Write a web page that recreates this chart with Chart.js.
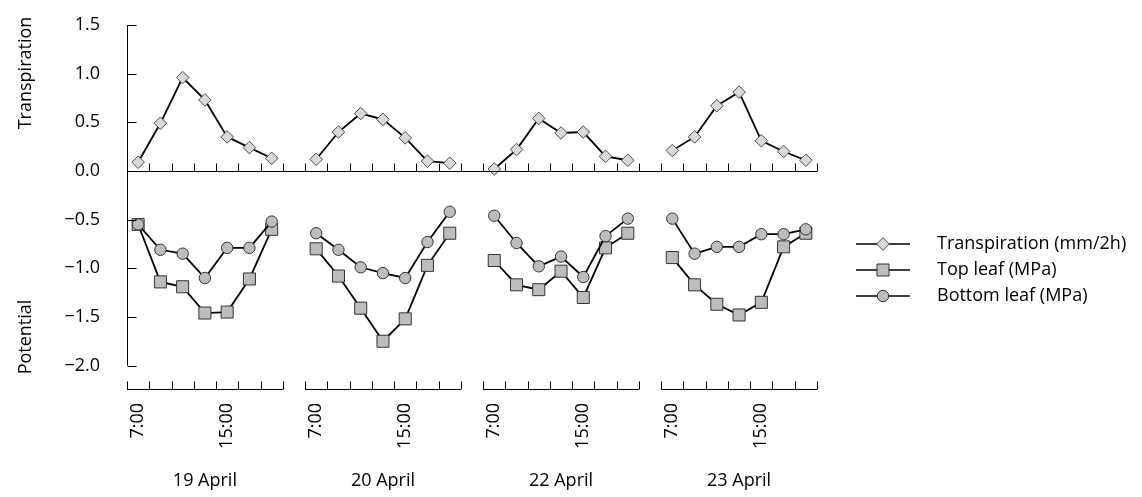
<!DOCTYPE html>
<html>
<head>
<meta charset="utf-8">
<script src="https://cdn.jsdelivr.net/npm/chart.js@4/dist/chart.umd.min.js"></script>
<style>
  html, body { margin: 0; padding: 0; background: #fff; }
  #wrap { width: 1142px; height: 497px; position: relative; }
</style>
</head>
<body>
<div id="wrap"><canvas id="chart"></canvas></div>
<script>
// Data
const days = ['19 April', '20 April', '22 April', '23 April'];
const hours = [7, 9, 11, 13, 15, 17, 19];
const hourLabels = { 7: '7:00', 15: '15:00' };
const yTicks = [-2.0, -1.5, -1.0, -0.5, 0.0, 0.5, 1.0, 1.5];

const transpiration = [
  [0.09, 0.49, 0.96, 0.73, 0.35, 0.24, 0.13],
  [0.12, 0.40, 0.59, 0.53, 0.34, 0.10, 0.08],
  [0.02, 0.22, 0.54, 0.39, 0.40, 0.15, 0.11],
  [0.21, 0.35, 0.67, 0.81, 0.31, 0.20, 0.11]
];
const topLeaf = [
  [-0.55, -1.14, -1.19, -1.46, -1.45, -1.11, -0.60],
  [-0.80, -1.08, -1.41, -1.75, -1.52, -0.97, -0.64],
  [-0.92, -1.17, -1.22, -1.03, -1.30, -0.79, -0.64],
  [-0.89, -1.17, -1.37, -1.48, -1.35, -0.78, -0.64]
];
const bottomLeaf = [
  [-0.55, -0.81, -0.85, -1.10, -0.79, -0.79, -0.52],
  [-0.64, -0.81, -0.99, -1.05, -1.10, -0.73, -0.42],
  [-0.46, -0.74, -0.98, -0.88, -1.09, -0.67, -0.49],
  [-0.49, -0.85, -0.78, -0.78, -0.65, -0.65, -0.60]
];

// x axis is in 2-hour slots: each day covers 6:00-20:00 (7 slots), one empty slot between days
const slotsPerDay = 8;
const xMax = days.length * slotsPerDay - 1;
function slotOf(dayIndex, hour) {
  return dayIndex * slotsPerDay + (hour - 6) / 2;
}

function buildSeries(values) {
  const pts = [];
  values.forEach((dayVals, d) => {
    dayVals.forEach((v, i) => pts.push({ x: slotOf(d, hours[i]), y: v }));
    if (d < values.length - 1) pts.push({ x: slotOf(d, 20), y: null });
  });
  return pts;
}

const FONT = '"Open Sans", "Noto Sans", sans-serif';
const FS = 18;
const fmt = v => v.toFixed(1).replace('-', '\u2212');

const series = [
  { label: 'Transpiration (mm/2h)', data: transpiration, style: 'rectRot', radius: 6.3, fill: '#d9d9d9', stroke: '#4a4a4a', order: 3 },
  { label: 'Top leaf (MPa)', data: topLeaf, style: 'rect', radius: 8.5, fill: '#bdbdbd', stroke: '#333', order: 2 },
  { label: 'Bottom leaf (MPa)', data: bottomLeaf, style: 'circle', radius: 5.7, fill: '#bdbdbd', stroke: '#333', order: 1 }
];

// tick positions on x
const hourTicks = [];
days.forEach((_, d) => {
  Object.keys(hourLabels).forEach(h => hourTicks.push({ value: slotOf(d, +h), label: hourLabels[h] }));
});
const dayTicks = days.map((name, d) => ({ value: d * slotsPerDay + 3.5, label: name }));

function drawMarker(ctx, s, x, y) {
  ctx.save();
  ctx.fillStyle = s.fill;
  ctx.strokeStyle = s.stroke;
  ctx.lineWidth = 1;
  ctx.beginPath();
  if (s.style === 'circle') {
    ctx.arc(x, y, s.radius, 0, Math.PI * 2);
  } else if (s.style === 'rect') {
    const h = s.radius * Math.SQRT1_2;
    ctx.rect(x - h, y - h, 2 * h, 2 * h);
  } else {
    const r = s.radius;
    ctx.moveTo(x - r, y); ctx.lineTo(x, y - r); ctx.lineTo(x + r, y); ctx.lineTo(x, y + r); ctx.closePath();
  }
  ctx.fill();
  ctx.stroke();
  ctx.restore();
}

// keep the scale boxes at fixed sizes so the plot area lands where the figure has it
function fixBox(size) {
  return scale => {
    if (scale.isHorizontal()) scale.height = size; else scale.width = size;
    scale.paddingTop = 0; scale.paddingBottom = 0;
    scale.paddingLeft = 0; scale.paddingRight = 0;
  };
}

// axis lines, ticks, side titles and legend
const decorations = {
  id: 'decorations',
  afterDraw(chart) {
    const ctx = chart.ctx;
    const xs = chart.scales.x;
    const ys = chart.scales.y;
    const left = xs.getPixelForValue(0);
    const right = xs.getPixelForValue(xMax);
    const zeroY = Math.round(ys.getPixelForValue(0)) + 0.5;
    const bottom = Math.round(chart.chartArea.bottom) - 0.5;
    const tick = 8;

    ctx.save();
    ctx.strokeStyle = '#000';
    ctx.lineWidth = 1;
    ctx.beginPath();
    // y axis
    const yTop = ys.getPixelForValue(yTicks[yTicks.length - 1]);
    const yBot = ys.getPixelForValue(yTicks[0]);
    const ax = Math.round(left) + 0.5;
    ctx.moveTo(ax, yTop); ctx.lineTo(ax, yBot);
    yTicks.forEach(v => {
      const py = Math.round(ys.getPixelForValue(v)) + 0.5;
      ctx.moveTo(ax, py); ctx.lineTo(ax + 9, py);
    });
    // zero line with upward ticks
    ctx.moveTo(left, zeroY); ctx.lineTo(right, zeroY);
    for (let i = 1; i <= xMax; i++) {
      const px = Math.round(xs.getPixelForValue(i)) + 0.5;
      ctx.moveTo(px, zeroY); ctx.lineTo(px, zeroY - tick);
    }
    // bottom axis, one segment per day
    days.forEach((_, d) => {
      const a = d * slotsPerDay, b = a + 7;
      ctx.moveTo(xs.getPixelForValue(a), bottom); ctx.lineTo(xs.getPixelForValue(b), bottom);
      for (let i = a; i <= b; i++) {
        const px = Math.round(xs.getPixelForValue(i)) + 0.5;
        ctx.moveTo(px, bottom); ctx.lineTo(px, bottom - tick);
      }
    });
    ctx.stroke();

    // side titles
    ctx.fillStyle = '#000';
    ctx.font = FS + 'px ' + FONT;
    ctx.textAlign = 'center';
    ctx.textBaseline = 'middle';
    [['Transpiration', 73], ['Potential', 337]].forEach(([t, cy]) => {
      ctx.save();
      ctx.translate(26, cy);
      ctx.rotate(-Math.PI / 2);
      ctx.fillText(t, 0, 0);
      ctx.restore();
    });

    // legend
    ctx.textAlign = 'left';
    series.forEach((s, i) => {
      const ly = 244 + i * 26;
      ctx.beginPath();
      ctx.moveTo(856, ly); ctx.lineTo(910, ly);
      ctx.strokeStyle = '#000';
      ctx.lineWidth = 1.5;
      ctx.stroke();
      drawMarker(ctx, s, 883, ly);
      ctx.fillStyle = '#000';
      ctx.fillText(s.label, 937, ly);
    });
    ctx.restore();
  }
};

new Chart(document.getElementById('chart'), {
  type: 'line',
  data: {
    datasets: series.map(s => ({
      label: s.label,
      data: buildSeries(s.data),
      order: s.order,
      borderColor: '#000',
      borderWidth: 1.8,
      pointStyle: s.style,
      pointRadius: s.radius,
      pointBackgroundColor: s.fill,
      pointBorderColor: s.stroke,
      pointBorderWidth: 1,
      spanGaps: false,
      tension: 0
    }))
  },
  options: {
    responsive: true,
    maintainAspectRatio: false,
    animation: false,
    layout: { padding: { left: 50, top: 25, right: 325, bottom: 0 } },
    plugins: { legend: { display: false }, tooltip: { enabled: false } },
    scales: {
      x: {
        type: 'linear',
        min: 0,
        max: xMax,
        weight: 0,
        grid: { display: false, drawTicks: false },
        border: { display: false },
        afterFit: fixBox(58),
        afterBuildTicks: scale => { scale.ticks = hourTicks.map(t => ({ value: t.value })); },
        ticks: {
          autoSkip: false,
          minRotation: 90,
          maxRotation: 90,
          padding: 13,
          color: '#000',
          font: { family: FONT, size: FS },
          callback: v => (hourTicks.find(t => t.value === v) || {}).label
        }
      },
      x2: {
        type: 'linear',
        position: 'bottom',
        min: 0,
        max: xMax,
        weight: 1,
        grid: { display: false, drawTicks: false },
        border: { display: false },
        afterFit: fixBox(49),
        afterBuildTicks: scale => { scale.ticks = dayTicks.map(t => ({ value: t.value })); },
        ticks: {
          autoSkip: false,
          maxRotation: 0,
          padding: 22,
          color: '#000',
          font: { family: FONT, size: FS },
          callback: v => (dayTicks.find(t => t.value === v) || {}).label
        }
      },
      y: {
        min: -2.251,
        max: 1.5,
        grid: { display: false, drawTicks: false },
        border: { display: false },
        afterFit: fixBox(77),
        afterBuildTicks: scale => { scale.ticks = yTicks.map(v => ({ value: v })); },
        ticks: {
          padding: 27,
          color: '#000',
          font: { family: FONT, size: FS },
          callback: v => fmt(v)
        }
      }
    }
  },
  plugins: [decorations]
});
</script>
</body>
</html>
